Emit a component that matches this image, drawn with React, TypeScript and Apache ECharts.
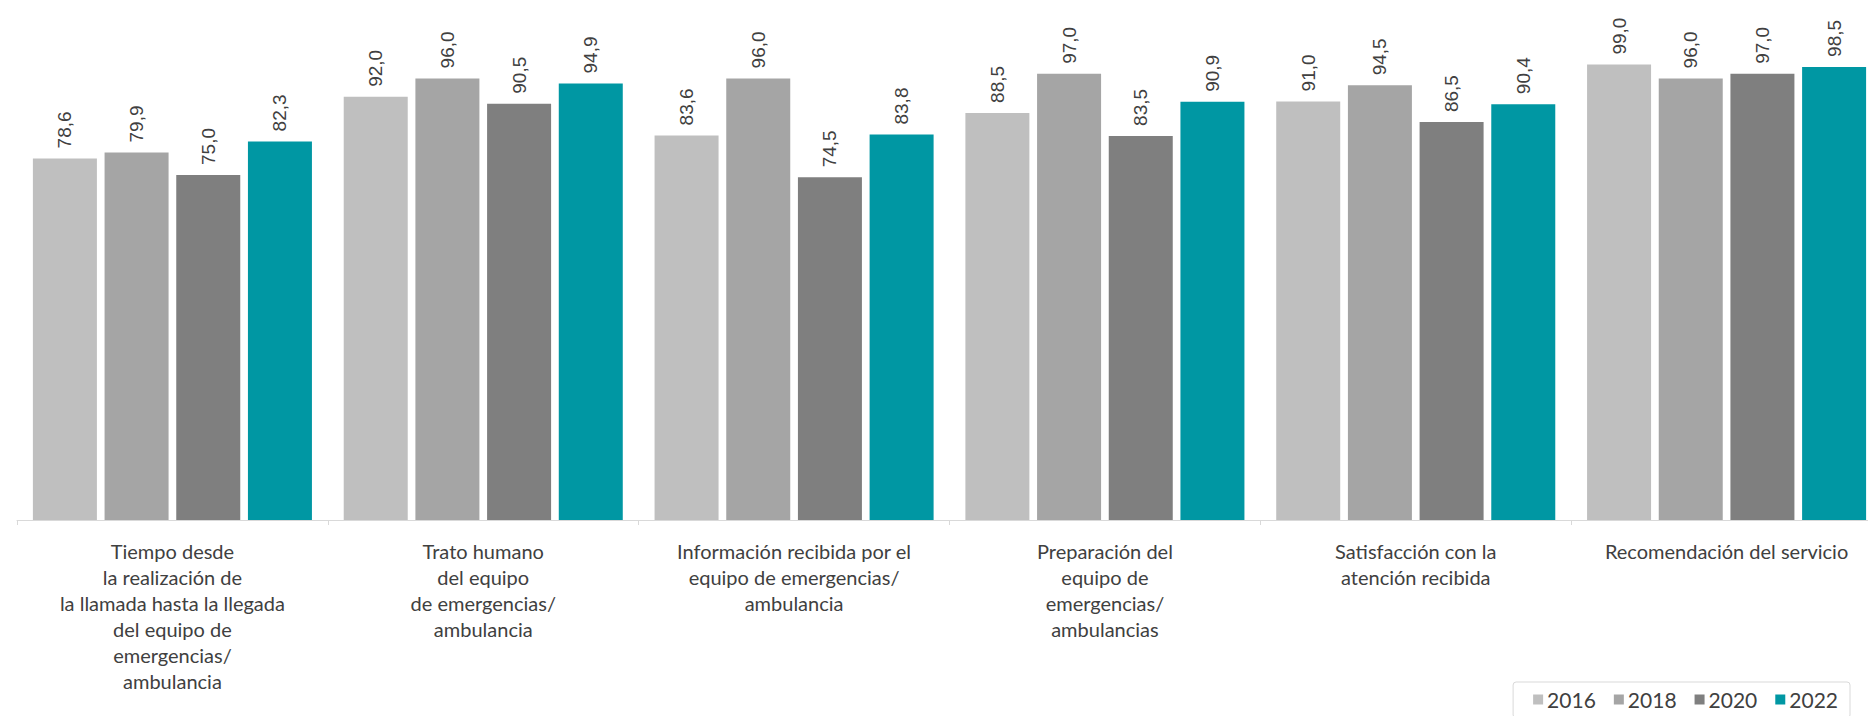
import React, { useEffect, useRef } from "react";
import * as echarts from "echarts";

const categories = [
  "Tiempo desde\nla realización de\nla llamada hasta la llegada\ndel equipo de\nemergencias/\nambulancia",
  "Trato humano\ndel equipo\nde emergencias/\nambulancia",
  "Información recibida por el\nequipo de emergencias/\nambulancia",
  "Preparación del\nequipo de\nemergencias/\nambulancias",
  "Satisfacción con la\natención recibida",
  "Recomendación del servicio",
];

const years = ["2016", "2018", "2020", "2022"];

const values2016 = [78.6, 92.0, 83.6, 88.5, 91.0, 99.0];
const values2018 = [79.9, 96.0, 96.0, 97.0, 94.5, 96.0];
const values2020 = [75.0, 90.5, 74.5, 83.5, 86.5, 97.0];
const values2022 = [82.3, 94.9, 83.8, 90.9, 90.4, 98.5];

const seriesValues = [values2016, values2018, values2020, values2022];
const colors = ["#BFBFBF", "#A5A5A5", "#7F7F7F", "#0097A3"];

const FONT = "Lato, 'Noto Sans', sans-serif";
const LABEL_FONT = "'Liberation Sans', Arial, sans-serif";
const TEXT = "#404040";

export default function App() {
  const ref = useRef<HTMLDivElement>(null);

  useEffect(() => {
    document.body.style.margin = "0";
    if (!ref.current) return;
    const chart = echarts.init(ref.current, undefined, { renderer: "svg" });
    chart.setOption({
      animation: false,
      backgroundColor: "#ffffff",
      textStyle: { fontFamily: FONT },
      grid: { left: 17, right: 8, top: 60, height: 460, containLabel: false },
      legend: {
        data: years,
        right: 40,
        top: 682,
        orient: "horizontal",
        itemWidth: 10,
        itemHeight: 10,
        itemGap: 18,
        icon: "rect",
        borderColor: "#D9D9D9",
        borderWidth: 1,
        borderRadius: 3,
        padding: [7, 12, 8, 20],
        textStyle: { fontSize: 21, color: TEXT, fontFamily: FONT, padding: [0, 0, 0, -1] },
      },
      xAxis: {
        type: "category",
        data: categories,
        axisLine: { show: true, lineStyle: { color: "#D9D9D9", width: 1 } },
        axisTick: { show: true, length: 5, lineStyle: { color: "#D9D9D9" } },
        axisLabel: {
          interval: 0,
          color: TEXT,
          fontSize: 20,
          lineHeight: 26,
          margin: 18,
          fontFamily: FONT,
          align: "center",
        },
      },
      yAxis: {
        type: "value",
        min: 0,
        max: 100,
        show: false,
        splitLine: { show: false },
      },
      series: years.map((y, i) => ({
        name: y,
        type: "bar",
        data: seriesValues[i],
        barWidth: 64,
        barGap: "12%",
        itemStyle: { color: colors[i] },
        label: {
          show: true,
          position: "top",
          rotate: 90,
          align: "left",
          verticalAlign: "middle",
          distance: 10,
          color: TEXT,
          fontSize: 19,
          fontFamily: LABEL_FONT,
          formatter: (p: any) => Number(p.value).toFixed(1).replace(".", ","),
        },
      })),
    });
    return () => chart.dispose();
  }, []);

  return (
    <div
      style={{
        position: "absolute",
        left: 0,
        top: 0,
        width: 1868,
        height: 716,
        overflow: "hidden",
        background: "#ffffff",
      }}
    >
      <div ref={ref} style={{ width: 1890, height: 716 }} />
    </div>
  );
}
